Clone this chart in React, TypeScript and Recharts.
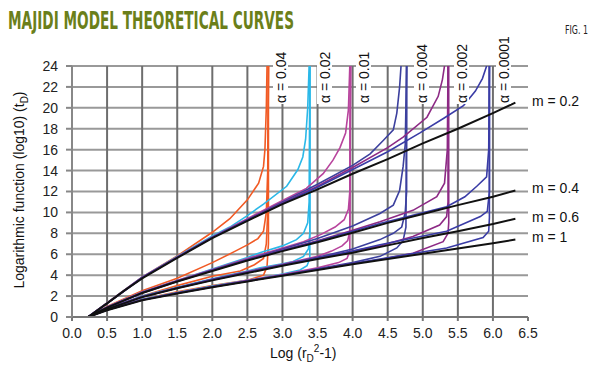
import { CartesianGrid, Line, LineChart, XAxis, YAxis } from "recharts";

type Pt = [number, number];

const X_TICKS = [0, 0.5, 1, 1.5, 2, 2.5, 3, 3.5, 4, 4.5, 5, 5.5, 6, 6.5];
const Y_TICKS = [0, 2, 4, 6, 8, 10, 12, 14, 16, 18, 20, 22, 24];
const GRID_X = [0.5, 1, 1.5, 2, 2.5, 3, 3.5, 4, 4.5, 5, 5.5, 6];

// black m curves
const m02: Pt[] = [[0.23, 0], [0.5, 1.3], [0.75, 2.55], [1, 3.7], [1.5, 5.65], [2, 7.55], [2.5, 9.2], [3, 10.8], [3.5, 12.2], [4, 13.7], [4.5, 15.1], [5, 16.6], [5.5, 18.0], [6, 19.5], [6.32, 20.5]];
const m04: Pt[] = [[0.23, 0], [0.5, 0.9], [1, 2.3], [1.5, 3.4], [2, 4.4], [2.5, 5.4], [3, 6.3], [3.5, 7.15], [4, 8.05], [4.5, 9.0], [5, 9.85], [5.5, 10.7], [6, 11.5], [6.32, 12.1]];
const m06: Pt[] = [[0.23, 0], [0.5, 0.75], [1, 1.9], [1.5, 2.75], [2, 3.5], [2.5, 4.2], [3, 4.9], [3.5, 5.55], [4, 6.15], [4.5, 6.85], [5, 7.55], [5.5, 8.2], [6, 8.9], [6.32, 9.4]];
const m1: Pt[] = [[0.23, 0], [0.5, 0.65], [1, 1.6], [1.5, 2.25], [2, 2.85], [2.5, 3.4], [3, 3.95], [3.5, 4.5], [4, 5.05], [4.5, 5.55], [5, 6.05], [5.5, 6.55], [6, 7.05], [6.32, 7.4]];

// alpha = 0.04
const a04m02: Pt[] = [[0.23, 0], [0.5, 1.35], [1, 3.8], [1.5, 5.85], [2, 8.1], [2.25, 9.4], [2.5, 11.2], [2.66, 12.8], [2.73, 14.4], [2.75, 16], [2.77, 20], [2.78, 24]];
const a04m04: Pt[] = [[0.23, 0], [0.5, 1.0], [1, 2.5], [1.5, 3.7], [2, 5.2], [2.3, 6.2], [2.5, 6.9], [2.65, 7.5], [2.73, 8.2], [2.77, 10], [2.79, 14], [2.8, 24]];
const a04m06: Pt[] = [[0.23, 0], [0.5, 0.8], [1, 2.0], [1.5, 3.0], [2, 3.9], [2.4, 4.4], [2.6, 5.0], [2.73, 5.6], [2.77, 7], [2.79, 10], [2.8, 24]];
const a04m1: Pt[] = [[0.23, 0], [0.5, 0.7], [1, 1.7], [1.5, 2.4], [2, 3.0], [2.49, 3.5], [2.73, 4.0], [2.78, 4.8], [2.8, 7], [2.8, 24]];

// alpha = 0.02
const a02m02: Pt[] = [[0.23, 0], [0.5, 1.35], [1, 3.8], [1.5, 5.8], [2, 7.75], [2.25, 8.6], [2.5, 9.7], [2.73, 10.8], [3.06, 12.5], [3.22, 14.1], [3.29, 15.3], [3.33, 17], [3.36, 20], [3.38, 24]];
const a02m04: Pt[] = [[0.23, 0], [0.5, 0.95], [1, 2.4], [1.5, 3.5], [2, 4.6], [2.5, 5.7], [2.7, 6.2], [3, 6.8], [3.2, 7.4], [3.3, 8.0], [3.36, 9.0], [3.38, 11], [3.39, 24]];
const a02m06: Pt[] = [[0.23, 0], [0.5, 0.8], [1, 2.0], [1.5, 2.85], [2, 3.65], [2.5, 4.4], [2.68, 4.7], [3, 5.1], [3.15, 5.3], [3.3, 5.8], [3.37, 6.5], [3.39, 8], [3.39, 24]];
const a02m1: Pt[] = [[0.23, 0], [0.5, 0.7], [1, 1.7], [1.5, 2.35], [2, 2.95], [2.5, 3.5], [3, 4.1], [3.25, 4.5], [3.35, 4.9], [3.39, 5.6], [3.39, 24]];

// alpha = 0.01
const a01m02: Pt[] = [[0.23, 0], [0.5, 1.35], [1, 3.8], [1.5, 5.75], [2, 7.65], [2.5, 9.4], [2.96, 11.0], [3.34, 12.3], [3.58, 13.7], [3.72, 15.0], [3.82, 16.2], [3.9, 17.6], [3.94, 19.8], [3.96, 24]];
const a01m04: Pt[] = [[0.23, 0], [0.5, 0.95], [1, 2.4], [1.5, 3.5], [2, 4.55], [2.5, 5.6], [3, 6.6], [3.3, 7.2], [3.55, 7.9], [3.75, 8.6], [3.88, 9.3], [3.94, 10.3], [3.96, 12], [3.97, 24]];
const a01m06: Pt[] = [[0.23, 0], [0.5, 0.8], [1, 1.95], [1.5, 2.8], [2, 3.6], [2.5, 4.35], [3, 5.05], [3.5, 5.8], [3.7, 6.3], [3.85, 6.8], [3.93, 7.3], [3.96, 8.2], [3.97, 24]];
const a01m1: Pt[] = [[0.23, 0], [0.5, 0.7], [1, 1.65], [1.5, 2.3], [2, 2.9], [2.5, 3.5], [3, 4.05], [3.5, 4.7], [3.8, 5.2], [3.92, 5.6], [3.96, 6.3], [3.97, 24]];

// alpha = 0.004
const a004m02: Pt[] = [[0.23, 0], [0.5, 1.3], [1, 3.75], [1.5, 5.7], [2, 7.6], [2.5, 9.3], [3, 11.0], [3.5, 12.7], [4, 14.5], [4.25, 15.6], [4.44, 16.9], [4.58, 17.9], [4.63, 19.5], [4.67, 22], [4.69, 24]];
const a004m04: Pt[] = [[0.23, 0], [0.5, 0.9], [1, 2.35], [1.5, 3.45], [2, 4.5], [2.5, 5.5], [3, 6.5], [3.5, 7.5], [4, 8.7], [4.39, 9.9], [4.58, 10.7], [4.67, 12.1], [4.72, 14.4], [4.75, 16.5], [4.77, 24]];
const a004m06: Pt[] = [[0.23, 0], [0.5, 0.8], [1, 1.95], [1.5, 2.8], [2, 3.6], [2.5, 4.3], [3, 5.0], [3.5, 5.7], [4, 6.5], [4.39, 7.4], [4.58, 8.0], [4.7, 8.6], [4.75, 10.0], [4.77, 12], [4.77, 24]];
const a004m1: Pt[] = [[0.23, 0], [0.5, 0.7], [1, 1.65], [1.5, 2.3], [2, 2.9], [2.5, 3.45], [3, 4.0], [3.5, 4.6], [4, 5.2], [4.39, 5.8], [4.63, 6.6], [4.72, 7.3], [4.76, 8.6], [4.77, 24]];

// alpha = 0.002
const a002m02: Pt[] = [[0.23, 0], [0.5, 1.3], [1, 3.75], [1.5, 5.7], [2, 7.6], [2.5, 9.25], [3, 10.9], [3.5, 12.5], [4, 14.3], [4.5, 16.2], [4.72, 17.2], [5.06, 19.1], [5.22, 21.1], [5.28, 22.7], [5.31, 24]];
const a002m04: Pt[] = [[0.23, 0], [0.5, 0.9], [1, 2.3], [1.5, 3.45], [2, 4.45], [2.5, 5.45], [3, 6.4], [3.5, 7.3], [4, 8.3], [4.39, 9.1], [4.86, 10.2], [5.2, 11.5], [5.31, 12.8], [5.35, 16], [5.36, 24]];
const a002m06: Pt[] = [[0.23, 0], [0.5, 0.78], [1, 1.92], [1.5, 2.78], [2, 3.55], [2.5, 4.25], [3, 4.95], [3.5, 5.65], [4, 6.3], [4.39, 6.8], [4.86, 7.7], [5.24, 8.8], [5.34, 9.6], [5.36, 11], [5.36, 24]];
const a002m1: Pt[] = [[0.23, 0], [0.5, 0.68], [1, 1.63], [1.5, 2.28], [2, 2.88], [2.5, 3.43], [3, 4.0], [3.5, 4.55], [4, 5.1], [4.39, 5.5], [4.86, 6.1], [5.29, 7.2], [5.36, 8], [5.37, 9], [5.37, 24]];

// alpha = 0.0001
const a0001m02: Pt[] = [[0.23, 0], [0.5, 1.3], [1, 3.75], [1.5, 5.7], [2, 7.6], [2.5, 9.25], [3, 10.85], [3.5, 12.4], [4, 14.1], [4.5, 15.8], [4.96, 17.6], [5.3, 19.0], [5.58, 20.2], [5.75, 21.6], [5.85, 22.8], [5.91, 24]];
const a0001m04: Pt[] = [[0.23, 0], [0.5, 0.9], [1, 2.3], [1.5, 3.4], [2, 4.45], [2.5, 5.45], [3, 6.35], [3.5, 7.25], [4, 8.2], [4.39, 8.95], [5.34, 10.55], [5.6, 11.5], [5.77, 12.5], [5.91, 13.4], [5.94, 16], [5.95, 24]];
const a0001m06: Pt[] = [[0.23, 0], [0.5, 0.78], [1, 1.92], [1.5, 2.78], [2, 3.55], [2.5, 4.25], [3, 4.95], [3.5, 5.65], [4, 6.3], [4.39, 6.9], [5.34, 8.2], [5.82, 9.6], [5.92, 10.1], [5.95, 12], [5.95, 24]];
const a0001m1: Pt[] = [[0.23, 0], [0.5, 0.68], [1, 1.63], [1.5, 2.28], [2, 2.88], [2.5, 3.43], [3, 4.0], [3.5, 4.55], [4, 5.1], [4.39, 5.55], [5.34, 6.6], [5.86, 7.6], [5.94, 8.2], [5.95, 9.5], [5.95, 24]];

const ALPHA_CURVES: { name: string; color: string; curves: Pt[][] }[] = [
  { name: "0.04", color: "#f15a24", curves: [a04m02, a04m04, a04m06, a04m1] },
  { name: "0.02", color: "#2bb8e8", curves: [a02m02, a02m04, a02m06, a02m1] },
  { name: "0.01", color: "#b8449d", curves: [a01m02, a01m04, a01m06, a01m1] },
  { name: "0.004", color: "#3c409e", curves: [a004m02, a004m04, a004m06, a004m1] },
  { name: "0.002", color: "#8d2a85", curves: [a002m02, a002m04, a002m06, a002m1] },
  { name: "0.0001", color: "#3a3ca6", curves: [a0001m02, a0001m04, a0001m06, a0001m1] },
];
const M_CURVES: { name: string; pts: Pt[] }[] = [
  { name: "0.2", pts: m02 },
  { name: "0.4", pts: m04 },
  { name: "0.6", pts: m06 },
  { name: "1", pts: m1 },
];

// label placement (annotation text, px)
const ALPHA_LABELS = [
  { text: "0.04", x: 283 },
  { text: "0.02", x: 327 },
  { text: "0.01", x: 366 },
  { text: "0.004", x: 424 },
  { text: "0.002", x: 464 },
  { text: "0.0001", x: 506 },
];
const M_LABELS = [
  { text: "0.2", y: 101 },
  { text: "0.4", y: 188 },
  { text: "0.6", y: 217 },
  { text: "1", y: 237 },
];

const toRows = (pts: Pt[]) => pts.map(([x, y]) => ({ x, y }));
const FONT = "'Liberation Sans', Arial, sans-serif";

const gridX = (props: any) => {
  const scale = props?.xAxis?.scale;
  if (typeof scale === "function") return GRID_X.map((v) => scale(v));
  if (scale && typeof scale.map === "function") return GRID_X.map((v) => scale.map(v));
  const left = props?.offset?.left ?? 72;
  const width = props?.offset?.width ?? 456;
  return GRID_X.map((v) => left + (v / 6.5) * width);
};

const App = () => {
  return (
    <div style={{ position: "absolute", left: 0, top: 0, width: 600, height: 369, background: "#fff" }}>
      <LineChart width={600} height={369} margin={{ top: 66, right: 72, bottom: 12, left: 12 }}>
        <CartesianGrid stroke="#999" strokeWidth={2} vertical={false} />
        <CartesianGrid stroke="#6e6e6e" strokeWidth={2} horizontal={false} verticalCoordinatesGenerator={gridX} />
        <XAxis
          type="number"
          dataKey="x"
          domain={[0, 6.5]}
          ticks={X_TICKS}
          interval={0}
          tickFormatter={(v: number) => v.toFixed(1)}
          height={40}
          allowDataOverflow
          stroke="#777"
          strokeWidth={2}
          tickSize={4}
          tickMargin={7}
          tick={{ fill: "#222", fontSize: 14, fontFamily: FONT }}
        />
        <YAxis
          type="number"
          dataKey="y"
          domain={[0, 24]}
          ticks={Y_TICKS}
          interval={0}
          width={60}
          allowDataOverflow
          stroke="#888"
          strokeWidth={2}
          tickSize={6}
          tickMargin={8}
          tick={{ fill: "#222", fontSize: 14, fontFamily: FONT }}
        />
        {ALPHA_CURVES.map((a) =>
          a.curves.map((c, i) => (
            <Line
              key={a.name + "-" + i}
              data={toRows(c)}
              dataKey="y"
              type="linear"
              stroke={a.color}
              strokeWidth={1.6}
              dot={false}
              isAnimationActive={false}
            />
          ))
        )}
        {M_CURVES.map((m) => (
          <Line
            key={"m" + m.name}
            data={toRows(m.pts)}
            dataKey="y"
            type="linear"
            stroke="#111"
            strokeWidth={2}
            dot={false}
            isAnimationActive={false}
          />
        ))}
      </LineChart>
      <svg width={600} height={369} style={{ position: "absolute", left: 0, top: 0, pointerEvents: "none" }}>
        <text x={8} y={29} fill="#6b7f1a" fontSize={24} fontWeight="bold" fontFamily="'DejaVu Sans Condensed', 'Liberation Sans Narrow', sans-serif" textLength={286} lengthAdjust="spacingAndGlyphs">
          MAJIDI MODEL THEORETICAL CURVES
        </text>
        <text x={565} y={34} fill="#222" fontSize={12} fontFamily="'DejaVu Sans Condensed', sans-serif" textLength={23} lengthAdjust="spacingAndGlyphs">
          FIG. 1
        </text>
        {ALPHA_LABELS.map((l) => (
          <g key={l.text} transform={`translate(${l.x + 5},103) rotate(-90)`}>
            <rect x={-1} y={-15} width={l.text.length * 7.8 + 30} height={15} fill="#fff" />
            <text x={0} y={-2} fill="#111" fontSize={14} fontFamily={FONT}>
              {"α = " + l.text}
            </text>
          </g>
        ))}
        {M_LABELS.map((l) => (
          <text key={l.text} x={532} y={l.y + 5} fill="#111" fontSize={14} fontFamily={FONT}>
            {"m = " + l.text}
          </text>
        ))}
        <text x={270} y={358} fill="#111" fontSize={14} fontFamily={FONT}>
          Log (r<tspan fontSize={10} dy={4}>D</tspan><tspan fontSize={10} dy={-10}>2</tspan><tspan dy={6}>-1)</tspan>
        </text>
        <text transform="translate(24,190) rotate(-90)" textAnchor="middle" fill="#111" fontSize={14} fontFamily={FONT}>
          Logarithmic function (log10) (t<tspan fontSize={10} dy={4}>D</tspan><tspan dy={-4}>)</tspan>
        </text>
      </svg>
    </div>
  );
};

export default App;
